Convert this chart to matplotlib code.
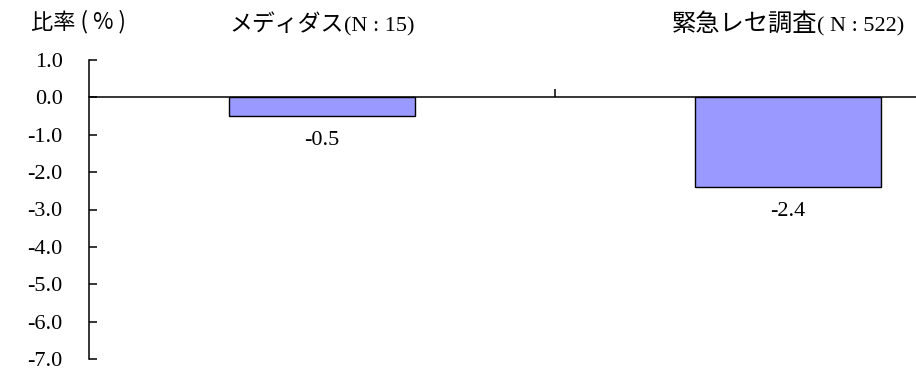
import matplotlib
matplotlib.use("Agg")
import matplotlib.pyplot as plt

# survey groups and the change ratio (%) for each
groups = ["メディダス", "緊急レセ調査"]
count_labels = ["(N : 15)", "( N : 522)"]
ratios = [-0.5, -2.4]
yticks = [1.0, 0.0, -1.0, -2.0, -3.0, -4.0, -5.0, -6.0, -7.0]

fig = plt.figure(figsize=(9.16, 3.73), dpi=100)
W, H = 916, 373
# the plot area runs past the right edge of the figure on purpose
ax = fig.add_axes([89 / W, 1 - 359 / H, 932 / W, 299 / H])

x = list(range(len(groups)))
ax.bar(x, ratios, width=0.40, color="#9999FF", edgecolor="black",
       linewidth=1.0, zorder=2)

for xi, v in zip(x, ratios):
    ax.annotate(f"{v:.1f}", (xi, v), xytext=(0, -10.5), textcoords="offset points",
                ha="center", va="top", fontsize=16, family="Liberation Serif")

ax.set_xlim(-0.5, len(groups) - 0.5)
ax.set_ylim(-7.0, 1.0)
ax.set_yticks(yticks)
ax.set_yticklabels([f"{t:.1f}" for t in yticks], family="Liberation Serif",
                   fontsize=16)
ax.tick_params(axis="y", direction="in", length=6, width=1.1, pad=19)

# x axis sits on the zero line, with ticks between the groups
ax.spines["bottom"].set_position(("data", 0))
ax.set_xticks([i + 0.5 for i in range(len(groups) - 1)])
ax.set_xticklabels([])
ax.tick_params(axis="x", direction="in", length=6, width=1.1)
for side in ["top", "right"]:
    ax.spines[side].set_visible(False)
ax.spines["left"].set_linewidth(1.1)
ax.spines["bottom"].set_linewidth(1.1)

# group headings: japanese name in gothic, count in serif, centred over the bar
fig.canvas.draw()
renderer = fig.canvas.get_renderer()
ty = 1 - 31 / H
name_sizes = [16.5, 17.5]
for xi, name, cnt, fs in zip(x, groups, count_labels, name_sizes):
    t1 = fig.text(0, ty, name, ha="left", va="baseline", fontsize=fs,
                  family="Noto Sans CJK JP")
    t2 = fig.text(0, ty, cnt, ha="left", va="baseline", fontsize=16,
                  family="Liberation Serif")
    w1 = t1.get_window_extent(renderer).width
    w2 = t2.get_window_extent(renderer).width
    cx = ax.transData.transform((xi, 0))[0]
    left = cx - (w1 + w2) / 2
    t1.set_x(left / W)
    t2.set_x((left + w1) / W)

fig.text(31 / W, 1 - 22 / H, "比率 ( % )", ha="left", va="center",
         fontsize=16, family="Noto Sans CJK JP")

fig.savefig("out.png", dpi=100)
